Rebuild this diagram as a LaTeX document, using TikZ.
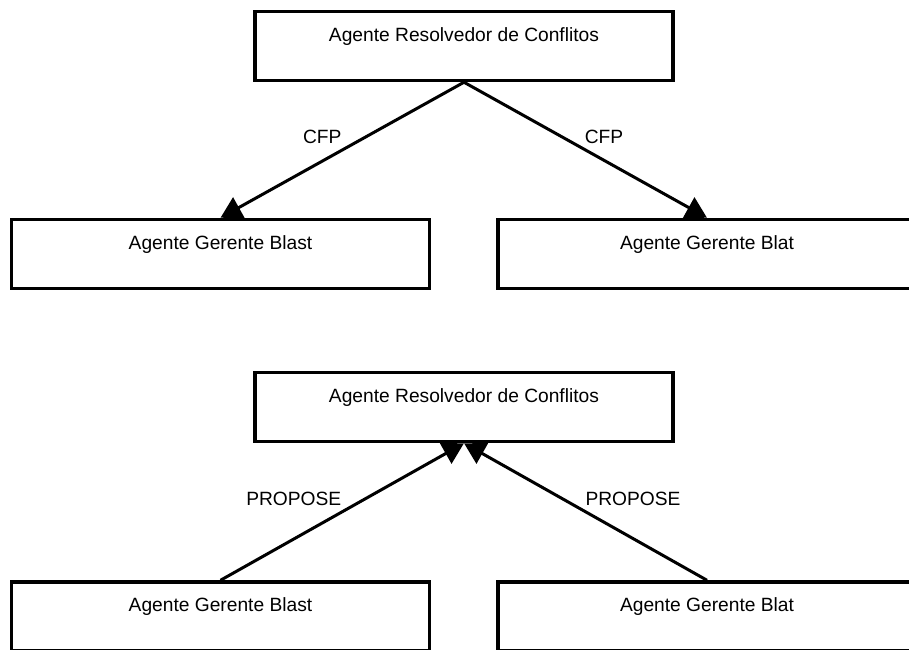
\documentclass[tikz,border=0pt]{standalone}
\usepackage{fontspec}
\setmainfont{Liberation Sans}
\usetikzlibrary{arrows.meta}

\begin{document}
\begin{tikzpicture}[x=0.75pt, y=0.75pt,
  agentbox/.style={draw=black, fill=white, line width=2.6pt, rectangle,
    minimum width=313.5pt, minimum height=51.75pt, inner sep=0pt},
  boxtext/.style={anchor=base, inner sep=0pt, font=\fontsize{14.4}{17}\selectfont},
  msglabel/.style={anchor=base, inner sep=0pt, font=\fontsize{14.4}{17}\selectfont},
  msg/.style={line width=2.25pt, -{Triangle[length=15.75pt, width=17.25pt]}}
]
\useasboundingbox (0,0) rectangle (909,-649);
\clip (0,0) rectangle (909,-649);

% --- CFP round: the resolver calls both managers ---
\node[agentbox] (res1)   at (464,-46)    {};
\node[agentbox] (blast1) at (220.5,-254) {};
\node[agentbox] (blat1)  at (707,-254)   {};
\node[boxtext] at ([yshift=-23.5pt]res1.north)   {Agente Resolvedor de Conflitos};
\node[boxtext] at ([yshift=-24pt]blast1.north) {Agente Gerente Blast};
\node[boxtext] at ([yshift=-24pt]blat1.north)  {Agente Gerente Blat};

\draw[msg] (res1.south) -- node[msglabel, shift={(-20,6)}] {CFP} (blast1.north);
\draw[msg] (res1.south) -- node[msglabel, shift={(18.5,6)}] {CFP} (blat1.north);

% --- PROPOSE round: both managers answer the resolver ---
\node[agentbox] (res2)   at (464,-407)     {};
\node[agentbox] (blast2) at (220.5,-616.5) {};
\node[agentbox] (blat2)  at (707,-616.5)   {};
\node[boxtext] at ([yshift=-24pt]res2.north)   {Agente Resolvedor de Conflitos};
\node[boxtext] at ([yshift=-23.5pt]blast2.north) {Agente Gerente Blast};
\node[boxtext] at ([yshift=-23.5pt]blat2.north)  {Agente Gerente Blat};

\draw[msg] (blast2.north) -- node[msglabel, shift={(-48.5,6)}] {PROPOSE} (res2.south);
\draw[msg] (blat2.north) -- node[msglabel, shift={(47.5,6)}] {PROPOSE} (res2.south);
\end{tikzpicture}
\end{document}
